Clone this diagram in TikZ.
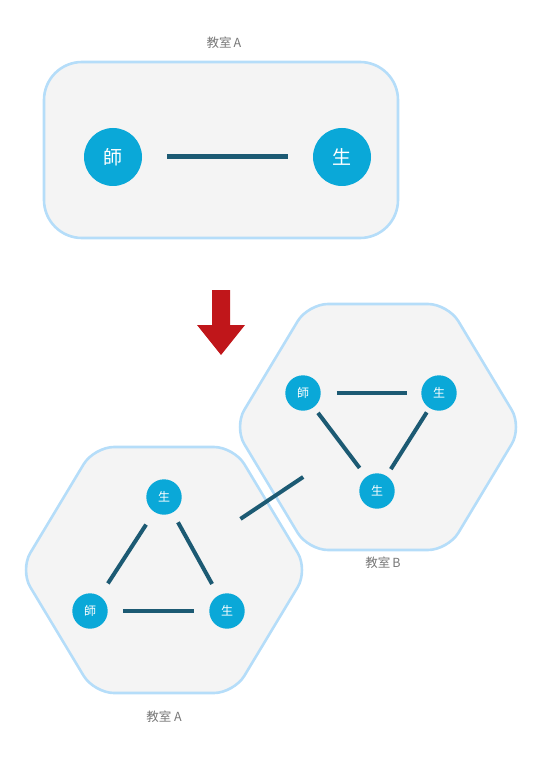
\documentclass[tikz,border=0pt]{standalone}
\usepackage{fontspec}
\newfontfamily\cjk{Noto Sans CJK TC}
\usetikzlibrary{calc}
\definecolor{bordc}{HTML}{B5DDF9}
\definecolor{roomfill}{HTML}{F4F4F4}
\definecolor{circc}{HTML}{0AA8D8}
\definecolor{linkc}{HTML}{1C5A73}
\definecolor{labc}{HTML}{777777}
\definecolor{arrc}{HTML}{C0161A}
\tikzset{
  room/.style={draw=bordc, fill=roomfill, line width=2.6pt},
  bigp/.style={circle, fill=circc, minimum size=58pt, inner sep=0pt, text=white, font=\cjk\fontsize{19}{19}\selectfont},
  smallp/.style={circle, fill=circc, minimum size=35.4pt, inner sep=0pt, text=white, font=\cjk\fontsize{12}{12}\selectfont},
  roomlabel/.style={text=labc, font=\cjk\fontsize{12.5}{12.5}\selectfont, inner sep=0pt},
  biglink/.style={draw=linkc, line width=5pt, shorten <=25pt, shorten >=25pt},
  smalllink/.style={draw=linkc, line width=4pt},
}
\begin{document}
\begin{tikzpicture}[x=1pt,y=-1pt]
\useasboundingbox (0,0) rectangle (557,767);
% top room
\draw[room, rounded corners=38pt] (44,62) rectangle (398,238);
\node[roomlabel] (labTop) at (224,43) {教室\,A};
\node[bigp] (t1) at (113,157) {師};
\node[bigp] (t2) at (342,157) {生};
\draw[biglink] (t1) -- (t2);
% arrow
\fill[arrc] (212,290) -- (230,290) -- (230,325) -- (245,325) -- (221,355) -- (197,325) -- (212,325) -- cycle;
% hexagon B
\coordinate (hB) at (378,427);
\draw[room, rounded corners=20pt] (378,304) -- (448,304) -- (522,427) -- (448,550) -- (308,550) -- (234,427) -- (308,304) -- cycle;
\node[roomlabel] (labB) at (383,563) {教室\,B};
\node[smallp] (b1) at (303,393) {師};
\node[smallp] (b2) at (439,393) {生};
\node[smallp] (b3) at (377,491) {生};
\draw[smalllink, shorten <=16pt, shorten >=14pt] (b1) -- (b2);
\draw[smalllink, shorten <=7pt, shorten >=11pt] (b1) -- (b3);
\draw[smalllink, shorten <=5pt, shorten >=8pt] (b2) -- (b3);
% hexagon A
\coordinate (hA) at (164,570);
\draw[room, rounded corners=20pt] (164,447) -- (234,447) -- (308,570) -- (234,693) -- (94,693) -- (20,570) -- (94,447) -- cycle;
\node[roomlabel] (labA) at (164,717) {教室 A};
\node[smallp] (a1) at (164,497) {生};
\node[smallp] (a2) at (90,611) {師};
\node[smallp] (a3) at (227,611) {生};
\draw[smalllink, shorten <=15pt, shorten >=15pt] (a1) -- (a2);
\draw[smalllink, shorten <=11pt, shorten >=13pt] (a1) -- (a3);
\draw[smalllink, shorten <=15pt, shorten >=15pt] (a2) -- (a3);
% link between rooms
\draw[draw=linkc, line width=4pt, shorten <=92pt, shorten >=90pt] (hA) -- (hB);
\end{tikzpicture}
\end{document}
